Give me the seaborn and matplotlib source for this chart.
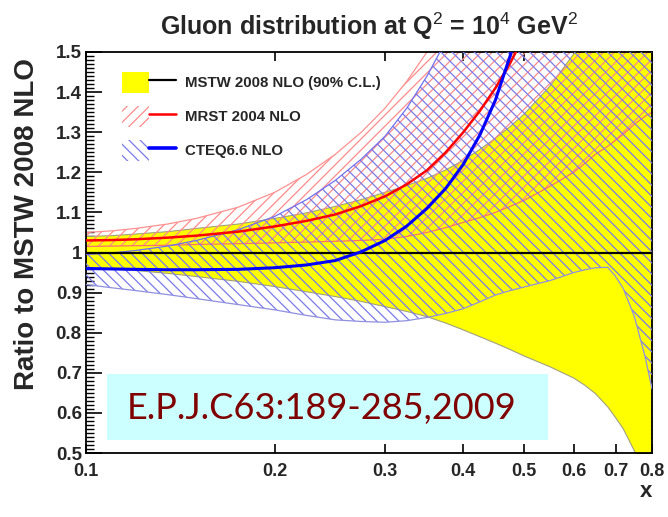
import numpy as np
import pandas as pd
import matplotlib
matplotlib.use("Agg")
import matplotlib.pyplot as plt
import seaborn as sns
from matplotlib.patches import Patch, Rectangle
from matplotlib.lines import Line2D
from matplotlib.legend_handler import HandlerTuple
from matplotlib.ticker import FixedLocator, MultipleLocator, FuncFormatter, NullLocator, NullFormatter

# ---------------- data ----------------
x = [0.1, 0.11, 0.12, 0.135, 0.15, 0.175, 0.2, 0.225, 0.25, 0.275, 0.3, 0.325, 0.35, 0.375,
     0.4, 0.425, 0.45, 0.475, 0.5, 0.55, 0.6, 0.625, 0.65, 0.68, 0.7, 0.72, 0.75, 0.78, 0.8]

mstw_c = [1.0] * len(x)
mstw_up = [1.040, 1.042, 1.046, 1.052, 1.060, 1.071, 1.085, 1.099, 1.115, 1.132, 1.150, 1.167, 1.185, 1.206,
           1.230, 1.257, 1.285, 1.314, 1.345, 1.415, 1.495, 1.54, 1.58, 1.64, 1.69, 1.74, 1.82, 1.90, 1.96]
mstw_lo = [0.963, 0.959, 0.955, 0.948, 0.940, 0.928, 0.915, 0.902, 0.890, 0.878, 0.865, 0.853, 0.840, 0.824,
           0.807, 0.790, 0.774, 0.758, 0.742, 0.715, 0.687, 0.669, 0.648, 0.615, 0.588, 0.560, 0.505, 0.445, 0.400]

mrst_c = [1.030, 1.031, 1.033, 1.037, 1.042, 1.052, 1.065, 1.079, 1.095, 1.116, 1.140, 1.170, 1.205, 1.250,
          1.300, 1.353, 1.410, 1.472, 1.540, 1.70, 1.87, 1.96, 2.05, 2.15, 2.23, 2.30, 2.42, 2.54, 2.62]
mrst_up = [1.050, 1.054, 1.060, 1.071, 1.085, 1.113, 1.150, 1.195, 1.245, 1.300, 1.360, 1.427, 1.500, 1.585,
           1.680, 1.765, 1.85, 1.94, 2.02, 2.2, 2.4, 2.5, 2.6, 2.7, 2.8, 2.9, 3.0, 3.1, 3.2]
mrst_lo = [1.015, 1.016, 1.017, 1.018, 1.020, 1.022, 1.024, 1.026, 1.028, 1.030, 1.033, 1.040, 1.050, 1.062,
           1.075, 1.087, 1.100, 1.115, 1.130, 1.165, 1.200, 1.222, 1.245, 1.265, 1.280, 1.295, 1.320, 1.340, 1.350]

cteq_c = [0.960, 0.959, 0.958, 0.957, 0.957, 0.958, 0.962, 0.969, 0.980, 1.002, 1.030, 1.066, 1.110, 1.160,
          1.220, 1.293, 1.380, 1.490, 1.620, 1.90, 2.20, 2.35, 2.5, 2.7, 2.85, 3.0, 3.2, 3.4, 3.5]
cteq_up = [0.995, 0.999, 1.005, 1.016, 1.030, 1.057, 1.090, 1.132, 1.180, 1.233, 1.290, 1.360, 1.440, 1.527,
           1.620, 1.73, 1.85, 1.97, 2.10, 2.4, 2.7, 2.85, 3.0, 3.2, 3.35, 3.5, 3.7, 3.9, 4.0]
cteq_lo = [0.920, 0.912, 0.905, 0.895, 0.885, 0.870, 0.857, 0.843, 0.832, 0.828, 0.826, 0.830, 0.838, 0.848,
           0.860, 0.877, 0.894, 0.905, 0.914, 0.930, 0.950, 0.957, 0.962, 0.963, 0.940, 0.910, 0.840, 0.740, 0.660]

labels = ["MSTW 2008 NLO (90% C.L.)", "MRST 2004 NLO", "CTEQ6.6 NLO"]
x_ticks = [0.1, 0.2, 0.3, 0.4, 0.5, 0.6, 0.7, 0.8]
title = "Gluon distribution at Q$^2$ = 10$^4$ GeV$^2$"
ylabel = "Ratio to MSTW 2008 NLO"
note = "E.P.J.C63:189-285,2009"

# ---------------- style ----------------
sns.set_theme(style="ticks")
plt.rcParams["font.family"] = ["Liberation Sans", "DejaVu Sans"]
plt.rcParams["mathtext.fontset"] = "custom"
plt.rcParams["mathtext.rm"] = "Liberation Sans"
plt.rcParams["mathtext.it"] = "Liberation Sans:italic"
plt.rcParams["mathtext.bf"] = "Liberation Sans:bold"
plt.rcParams["hatch.linewidth"] = 0.9

df = pd.DataFrame({"x": x, "mstw": mstw_c, "mrst": mrst_c, "cteq": cteq_c})

fig = plt.figure(figsize=(6.68, 5.17), dpi=100)
fig.patch.set_facecolor("white")
ax = fig.add_axes([86 / 668, 1 - 453 / 517, (652 - 86) / 668, (453 - 52) / 517])
ax.set_xscale("log")

YEL = "#ffff00"
RED_H = "#ff8a8a"
BLU_H = "#7a7ae8"

# MSTW band
ax.fill_between(x, mstw_lo, mstw_up, facecolor=YEL, edgecolor="none", zorder=1)
ax.plot(x, mstw_lo, color="#a0a080", lw=0.8, zorder=1.1)
ax.plot(x, mstw_up, color="#a0a080", lw=0.8, zorder=1.1)

# MRST band (red hatch)
ax.fill_between(x, mrst_lo, mrst_up, facecolor="none", edgecolor=RED_H, hatch="///", linewidth=0, zorder=2)
ax.plot(x, mrst_lo, color="#ff7070", lw=0.9, zorder=2.1)
ax.plot(x, mrst_up, color="#ff9090", lw=0.9, zorder=2.1)

# CTEQ band (blue hatch)
ax.fill_between(x, cteq_lo, cteq_up, facecolor="none", edgecolor=BLU_H, hatch="\\\\\\", linewidth=0, zorder=3)
ax.plot(x, cteq_lo, color="#9090e0", lw=0.9, zorder=3.1)
ax.plot(x, cteq_up, color="#7070f0", lw=0.9, zorder=3.1)

# central lines
sns.lineplot(data=df, x="x", y="mstw", ax=ax, color="black", lw=1.6, zorder=5)
sns.lineplot(data=df, x="x", y="mrst", ax=ax, color="#ff0000", lw=1.8, zorder=5)
sns.lineplot(data=df, x="x", y="cteq", ax=ax, color="#0000ff", lw=2.2, zorder=5)

ax.set_xlim(0.1, 0.8)
ax.set_ylim(0.5, 1.5)

# ticks ROOT-like
ax.xaxis.set_major_locator(FixedLocator(x_ticks))
ax.xaxis.set_minor_locator(NullLocator())
ax.xaxis.set_major_formatter(FuncFormatter(lambda v, p: f"{v:g}"))
ax.xaxis.set_minor_formatter(NullFormatter())
ax.yaxis.set_major_locator(MultipleLocator(0.1))
ax.yaxis.set_minor_locator(MultipleLocator(0.01))
ax.yaxis.set_major_formatter(FuncFormatter(lambda v, p: f"{round(v, 2):g}"))
ax.tick_params(axis="both", which="both", direction="in", top=True, right=True, color="black")
ax.tick_params(axis="y", which="major", length=11.5, width=1.2)
ax.tick_params(axis="y", which="minor", length=5.5, width=1.0)
ax.tick_params(axis="x", which="major", length=6.5, width=1.2)
for lab in ax.get_xticklabels() + ax.get_yticklabels():
    lab.set_fontweight("bold")
ax.tick_params(axis="x", labelsize=13, pad=7)
ax.tick_params(axis="y", labelsize=13.5, pad=3)
for s in ax.spines.values():
    s.set_linewidth(1.3)
    s.set_color("black")

ax.set_xlabel("x", fontsize=16, fontweight="bold", loc="right", labelpad=1)
ax.set_ylabel(ylabel, fontsize=20, fontweight="bold", va="center")
ax.yaxis.set_label_coords(-0.104, 0.571)
ax.set_title(title, fontsize=18, fontweight="bold", pad=12)

# legend
h_mstw = (Patch(facecolor=YEL, edgecolor="none"), Line2D([], [], color="black", lw=1.6))
h_mrst = (Patch(facecolor="none", edgecolor=RED_H, hatch="///", linewidth=0), Line2D([], [], color="#ff0000", lw=1.8))
h_cteq = (Patch(facecolor="none", edgecolor=BLU_H, hatch="\\\\\\", linewidth=0), Line2D([], [], color="#0000ff", lw=2.6))
leg = ax.legend([h_mstw, h_mrst, h_cteq], labels,
                handler_map={tuple: HandlerTuple(ndivide=None, pad=0)},
                loc="upper left", bbox_to_anchor=(110 / 668, 1 - 60 / 517), bbox_transform=fig.transFigure,
                frameon=False, handlelength=3.6, handleheight=1.8,
                labelspacing=0.85, handletextpad=0.6, borderpad=0.3,
                prop={"weight": "bold", "size": 10.8})
leg.set_zorder(10)

# reference note
fig.patches.append(Rectangle((107 / 668, 1 - 440 / 517), (548 - 107) / 668, 66 / 517,
                             transform=fig.transFigure, facecolor="#ccffff", edgecolor="none", zorder=20))
fig.text(322 / 668, 1 - 408 / 517, note, ha="center", va="center", color="#800000",
         fontsize=26, family=["Lato", "DejaVu Sans"], fontweight="normal", zorder=21)

fig.savefig("out.png", dpi=100, facecolor="white")
